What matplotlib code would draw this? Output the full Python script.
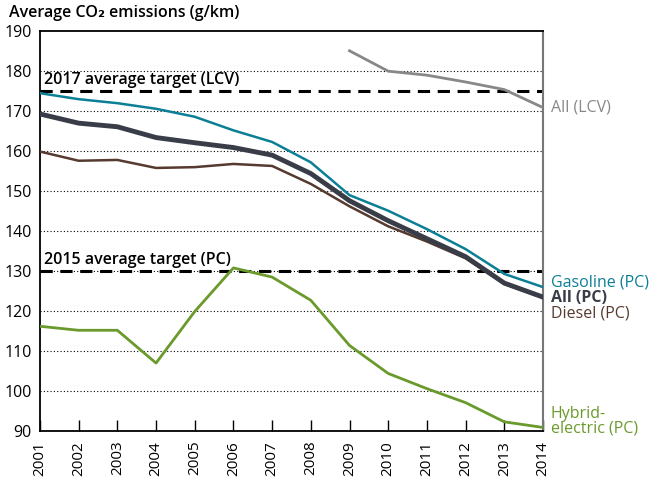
import matplotlib
matplotlib.use('Agg')
import matplotlib.pyplot as plt

plt.rcParams['font.family'] = ['Open Sans', 'DejaVu Sans']

# Data
years = list(range(2001, 2015))
gasoline_pc = [174.5, 173.0, 172.0, 170.6, 168.6, 165.2, 162.3, 157.2, 149.0, 145.1, 140.5, 135.5, 129.3, 126.0]
all_pc = [169.3, 167.0, 166.1, 163.4, 162.1, 160.9, 159.0, 154.4, 147.6, 142.6, 138.1, 133.6, 127.0, 123.5]
diesel_pc = [159.9, 157.6, 157.8, 155.8, 156.0, 156.8, 156.3, 151.8, 146.2, 141.2, 137.4, 133.2, 126.8, 123.3]
hybrid_pc = [116.2, 115.2, 115.2, 107.0, 119.9, 130.8, 128.5, 122.7, 111.4, 104.4, 100.6, 97.1, 92.3, 90.9]
lcv_years = [2009, 2010, 2011, 2012, 2013, 2014]
all_lcv = [185.1, 180.0, 179.0, 177.3, 175.4, 170.9]
target_lcv = 175
target_pc = 130
yticks = list(range(90, 191, 10))

C_GAS = '#0b7f96'
C_ALL = '#393d47'
C_DIE = '#573a2f'
C_HYB = '#6a9a2c'
C_LCV = '#88888a'

fig = plt.figure(figsize=(6.55, 4.8), dpi=100)
ax = fig.add_axes([0.061, 0.102, 0.768, 0.833])

# dotted grid
for y in yticks[1:-1]:
    ax.axhline(y, color='black', linestyle=(0, (1, 2)), linewidth=0.8, zorder=1)

# targets
ax.plot([years[0], years[-1]], [target_lcv, target_lcv], color='black',
        linestyle=(0, (4, 2.5)), linewidth=2.2, zorder=2)
ax.plot([years[0], years[-1]], [target_pc, target_pc], color='black',
        linestyle=(0, (4, 2.5)), linewidth=2.2, zorder=2)
ax.text(2001.1, target_lcv + 0.8, '2017 average target (LCV)', fontsize=11.5,
        fontweight='semibold', va='bottom', ha='left')
ax.text(2001.1, target_pc + 0.8, '2015 average target (PC)', fontsize=11.5,
        fontweight='semibold', va='bottom', ha='left')

ax.plot(lcv_years, all_lcv, color=C_LCV, linewidth=2, zorder=3)
ax.plot(years, hybrid_pc, color=C_HYB, linewidth=2, zorder=3)
ax.plot(years, diesel_pc, color=C_DIE, linewidth=1.8, zorder=3)
ax.plot(years, gasoline_pc, color=C_GAS, linewidth=1.8, zorder=4)
ax.plot(years, all_pc, color=C_ALL, linewidth=3.5, zorder=5)

# end labels
lx = 2014.2
ax.text(lx, all_lcv[-1], 'All (LCV)', color=C_LCV, fontsize=11.5, va='center', clip_on=False)
ax.text(lx, 127.2, 'Gasoline (PC)', color=C_GAS, fontsize=11.5, fontweight='medium',
        va='center', clip_on=False)
ax.text(lx, 123.2, 'All (PC)', color=C_ALL, fontsize=11.5, fontweight='bold',
        va='center', clip_on=False)
ax.text(lx, 119.3, 'Diesel (PC)', color=C_DIE, fontsize=11.5, fontweight='medium',
        va='center', clip_on=False)
ax.text(lx, 92.5, 'Hybrid-\nelectric (PC)', color=C_HYB, fontsize=11.5, fontweight='medium',
        va='center', linespacing=0.9, clip_on=False)

ax.set_xlim(years[0], years[-1])
ax.set_ylim(90, 190)
ax.set_yticks(yticks)
ax.set_xticks(years)
ax.set_xticklabels([str(y) for y in years], rotation=90)
ax.tick_params(axis='y', length=0, labelsize=11.5, pad=6)
ax.tick_params(axis='x', direction='in', length=8, width=1, labelsize=11, pad=7)

for side in ['left', 'bottom', 'top']:
    ax.spines[side].set_color('black')
    ax.spines[side].set_linewidth(1.3)
ax.spines['right'].set_color('#777777')
ax.spines['right'].set_linewidth(1.5)

fig.text(0.013, 0.972, 'Average CO\u2082 emissions (g/km)', fontsize=11.5,
         fontweight='semibold', va='center', ha='left')

fig.savefig('out.png', dpi=100)
